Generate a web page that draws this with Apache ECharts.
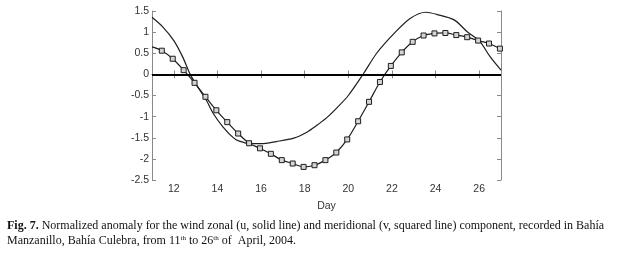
<!DOCTYPE html>
<html>
<head>
<meta charset="utf-8">
<script src="https://cdn.jsdelivr.net/npm/echarts@6/dist/echarts.min.js"></script>
<style>
  html, body { margin: 0; padding: 0; background: #fff; }
  #chart { width: 617px; height: 255px; }
</style>
</head>
<body>
<div id="chart"></div>
<script>
// zonal component u (solid line)
const uDays = [11, 11.5, 12, 12.4, 12.75, 13, 13.5, 13.8, 14.25, 14.75, 15, 15.5, 16, 16.7, 17.5, 18.1, 18.5, 19, 19.5, 20, 20.7, 21.3, 22.1, 22.85, 23.55, 24.05, 24.85, 25.45, 26, 26.5, 27];
const uVals = [1.35, 1.12, 0.80, 0.42, 0.0, -0.22, -0.62, -0.92, -1.24, -1.51, -1.58, -1.64, -1.64, -1.59, -1.51, -1.37, -1.23, -1.03, -0.78, -0.50, 0.02, 0.50, 0.97, 1.33, 1.47, 1.42, 1.29, 1.01, 0.80, 0.42, 0.10];

// meridional component v (squared line), first and last points are line ends without a marker
const vDays = [11, 11.45, 11.95, 12.45, 12.95, 13.45, 13.95, 14.45, 14.95, 15.45, 15.95, 16.45, 16.95, 17.45, 17.95, 18.45, 18.95, 19.45, 19.95, 20.45, 20.95, 21.45, 21.95, 22.45, 22.95, 23.45, 23.95, 24.45, 24.95, 25.45, 25.95, 26.45, 26.95, 27];
const vVals = [0.65, 0.56, 0.37, 0.10, -0.20, -0.53, -0.85, -1.13, -1.40, -1.63, -1.75, -1.88, -2.03, -2.11, -2.19, -2.15, -2.03, -1.85, -1.54, -1.11, -0.65, -0.18, 0.20, 0.52, 0.77, 0.92, 0.97, 0.98, 0.93, 0.88, 0.80, 0.73, 0.61, 0.60];

const xTicks = [12, 14, 16, 18, 20, 22, 24, 26];

const chart = echarts.init(document.getElementById('chart'));

const axisCol = '#8a8a8a';
const labelStyle = { color: '#333', fontFamily: 'Liberation Sans', fontSize: 10.5 };

const vData = vDays.map((d, i) => {
  const p = { value: [d, vVals[i]] };
  if (i === 0 || i === vDays.length - 1) p.symbol = 'none';
  return p;
});

chart.setOption({
  animation: false,
  grid: { left: 152, right: 116, top: 11, bottom: 75 },
  xAxis: [
    {
      type: 'value', min: 11, max: 27, position: 'bottom',
      name: 'Day', nameLocation: 'middle', nameGap: 21,
      nameTextStyle: labelStyle,
      axisLine: { lineStyle: { color: axisCol, width: 1 } },
      axisTick: { inside: true, length: 4, customValues: xTicks, lineStyle: { color: axisCol } },
      axisLabel: Object.assign({ customValues: xTicks, margin: 4 }, labelStyle),
      splitLine: { show: false }
    },
    {
      type: 'value', min: 11, max: 27, position: 'top',
      axisLine: { lineStyle: { color: axisCol, width: 1 } },
      axisTick: { inside: true, length: 4, customValues: xTicks, lineStyle: { color: axisCol } },
      axisLabel: { show: false },
      splitLine: { show: false }
    }
  ],
  yAxis: [
    {
      type: 'value', min: -2.5, max: 1.5, interval: 0.5, position: 'left',
      axisLine: { show: true, lineStyle: { color: axisCol, width: 1 } },
      axisTick: { show: true, inside: true, length: 4, lineStyle: { color: axisCol } },
      axisLabel: Object.assign({ margin: 3 }, labelStyle),
      splitLine: { show: false }
    },
    {
      type: 'value', min: -2.5, max: 1.5, interval: 0.5, position: 'right',
      axisLine: { show: true, lineStyle: { color: axisCol, width: 1 } },
      axisTick: { show: true, inside: true, length: 4, lineStyle: { color: axisCol } },
      axisLabel: { show: false },
      splitLine: { show: false }
    }
  ],
  series: [
    {
      name: 'u',
      type: 'line',
      smooth: 0.3,
      showSymbol: false,
      data: uDays.map((d, i) => [d, uVals[i]]),
      lineStyle: { color: '#1e1e1e', width: 1.2 },
      markLine: {
        silent: true,
        symbol: 'none',
        label: { show: false },
        lineStyle: { color: '#000', width: 2, type: 'solid' },
        data: [{ yAxis: 0 }]
      }
    },
    {
      name: 'v',
      type: 'line',
      smooth: 0.3,
      symbol: 'rect',
      symbolSize: 5,
      data: vData,
      lineStyle: { color: '#1e1e1e', width: 1.2 },
      itemStyle: { color: '#d4d4d4', borderColor: '#1e1e1e', borderWidth: 1 }
    }
  ],
  graphic: [
    {
      type: 'text', left: 7, top: 220,
      style: {
        text: '{b|Fig. 7.} Normalized anomaly for the wind zonal (u, solid line) and meridional (v, squared line) component, recorded in Bahía',
        font: '12px "Liberation Serif"',
        fill: '#111',
        rich: { b: { fontWeight: 'bold', fontFamily: 'Liberation Serif', fontSize: 12 } }
      }
    },
    {
      type: 'text', left: 7, top: 235,
      style: {
        text: 'Manzanillo, Bahía Culebra, from 11{s|th} to 26{s|th} of  April, 2004.',
        font: '12px "Liberation Serif"',
        fill: '#111',
        rich: { s: { fontSize: 7, fontFamily: 'Liberation Serif', verticalAlign: 'top', padding: [0, 0, 4, 0] } }
      }
    }
  ]
});
</script>
</body>
</html>
